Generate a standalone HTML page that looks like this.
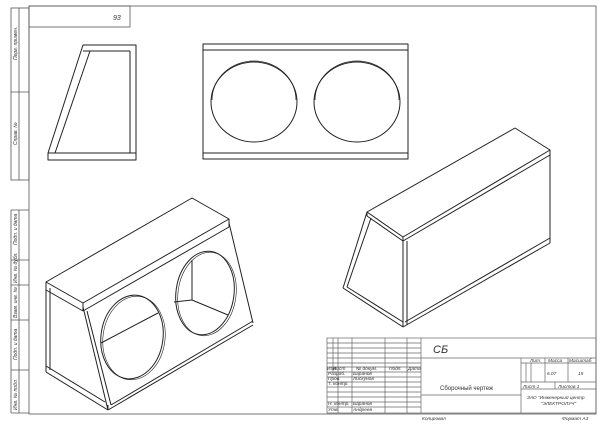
<!DOCTYPE html>
<html><head><meta charset="utf-8"><style>
body{margin:0;background:#fff}
svg{display:block}
text{font-family:"Liberation Sans","DejaVu Sans",sans-serif;font-style:italic;fill:#333}
</style></head><body>
<svg width="600" height="424" viewBox="0 0 600 424" xmlns="http://www.w3.org/2000/svg">
<rect width="600" height="424" fill="#fff"/>
<g stroke="#555" stroke-width="0.8" fill="none">
<rect x="29" y="6" width="567" height="408"/>
<rect x="29" y="6" width="101" height="21"/>
<rect x="11" y="8" width="18" height="172"/>
<line x1="11" y1="92" x2="29" y2="92"/>
<line x1="11" y1="210" x2="29" y2="210"/>
<line x1="11" y1="210" x2="11" y2="413"/>
<line x1="11" y1="260" x2="29" y2="260"/>
<line x1="11" y1="285" x2="29" y2="285"/>
<line x1="11" y1="320" x2="29" y2="320"/>
<line x1="11" y1="370" x2="29" y2="370"/>
<line x1="11" y1="413" x2="29" y2="413"/>
<line x1="19" y1="8" x2="19" y2="180"/>
<line x1="19" y1="210" x2="19" y2="413"/>
</g>
<g font-size="5" >
<text transform="translate(17,60) rotate(-90)">Перв. примен.</text>
<text transform="translate(17,145) rotate(-90)">Справ. №</text>
<text transform="translate(17,245) rotate(-90)">Подп. и дата</text>
<text transform="translate(17,283) rotate(-90)">Инв. № дубл.</text>
<text transform="translate(17,318) rotate(-90)">Взам. инв. №</text>
<text transform="translate(17,360) rotate(-90)">Подп. и дата</text>
<text transform="translate(17,410) rotate(-90)">Инв. № подл.</text>
</g>
<text x="113" y="20" font-size="7">93</text>

<g stroke="#222" stroke-width="1" fill="none" stroke-linejoin="round">
<polygon points="83,45 136,45 136,160 48,160 48,153 83,45"/>
<line x1="90" y1="51" x2="130" y2="51"/>
<line x1="83" y1="51" x2="90" y2="51"/>
<line x1="130" y1="51" x2="130" y2="153"/>
<line x1="48" y1="153" x2="136" y2="153"/>
<line x1="90" y1="51" x2="55" y2="153"/>
<rect x="203" y="44" width="205" height="115"/>
<line x1="203" y1="50" x2="408" y2="50"/>
<line x1="203" y1="153" x2="408" y2="153"/>
<ellipse cx="254" cy="102" rx="43" ry="40"/>
<ellipse cx="357" cy="102" rx="43" ry="40"/>
<path d="M212,100 A42,39 0 0 1 296,100" stroke-width="0.8"/>
<path d="M315,100 A42,39 0 0 1 399,100" stroke-width="0.8"/>
<polygon points="46,282 192,198 229,219 83,303"/>
<line x1="46" y1="282" x2="46" y2="372"/>
<line x1="50" y1="288" x2="50" y2="370"/>
<line x1="46" y1="290" x2="83" y2="311"/>
<line x1="83" y1="303" x2="83" y2="311"/>
<line x1="83" y1="311" x2="229" y2="227"/>
<line x1="229" y1="219" x2="229" y2="227"/>
<line x1="46" y1="372" x2="108" y2="410"/>
<line x1="46" y1="366" x2="105" y2="402"/>
<line x1="83" y1="307" x2="108" y2="410"/>
<line x1="87" y1="311" x2="111" y2="405"/>
<line x1="108" y1="410" x2="253" y2="325"/>
<line x1="111" y1="405" x2="253" y2="321"/>
<line x1="108" y1="410" x2="108" y2="405"/>
<line x1="229" y1="223" x2="253" y2="323"/>
<ellipse cx="132" cy="337" rx="31" ry="42" transform="rotate(8 132 337)"/>
<ellipse cx="134" cy="338" rx="31" ry="42" transform="rotate(8 134 338)" stroke-width="0.6"/>
<ellipse cx="205" cy="293" rx="29" ry="42" transform="rotate(8 205 293)"/>
<ellipse cx="207" cy="294" rx="29" ry="42" transform="rotate(8 207 294)" stroke-width="0.6"/>
<line x1="101" y1="343" x2="158" y2="313"/>
<polyline points="192,260 192,300 228,315"/>
<line x1="174" y1="302" x2="192" y2="300"/>
<polygon points="367,212 515,128 550,150 403,237"/>
<line x1="367" y1="212" x2="367" y2="216"/>
<line x1="367" y1="216" x2="403" y2="241"/>
<line x1="403" y1="237" x2="403" y2="327"/>
<line x1="407" y1="241" x2="407" y2="325"/>
<line x1="403" y1="241" x2="550" y2="155"/>
<line x1="550" y1="150" x2="550" y2="243"/>
<line x1="403" y1="327" x2="550" y2="243"/>
<line x1="405" y1="322" x2="550" y2="238"/>
<line x1="367" y1="212" x2="343" y2="288"/>
<line x1="371" y1="218" x2="347" y2="287"/>
<line x1="343" y1="288" x2="403" y2="327"/>
<line x1="347" y1="287" x2="403" y2="322"/>
</g>

<g stroke="#666" stroke-width="0.7" fill="none">
<rect x="327" y="338" width="269" height="75"/>
<line x1="333" y1="338" x2="333" y2="372"/>
<line x1="338" y1="338" x2="338" y2="413"/>
<line x1="352" y1="338" x2="352" y2="413"/>
<line x1="385" y1="338" x2="385" y2="413"/>
<line x1="407" y1="338" x2="407" y2="413"/>
<line x1="421" y1="338" x2="421" y2="413"/>
<line x1="327" y1="343" x2="421" y2="343"/>
<line x1="327" y1="348" x2="421" y2="348"/>
<line x1="327" y1="353" x2="421" y2="353"/>
<line x1="327" y1="358" x2="421" y2="358"/>
<line x1="327" y1="363" x2="421" y2="363"/>
<line x1="327" y1="367" x2="421" y2="367"/>
<line x1="327" y1="372" x2="421" y2="372"/>
<line x1="327" y1="377" x2="421" y2="377"/>
<line x1="327" y1="382" x2="421" y2="382"/>
<line x1="327" y1="387" x2="421" y2="387"/>
<line x1="327" y1="392" x2="421" y2="392"/>
<line x1="327" y1="397" x2="421" y2="397"/>
<line x1="327" y1="402" x2="421" y2="402"/>
<line x1="327" y1="407" x2="421" y2="407"/>
<line x1="421" y1="358" x2="596" y2="358"/>
<line x1="421" y1="395" x2="521" y2="395"/>
<line x1="521" y1="358" x2="521" y2="413"/>
<line x1="521" y1="363" x2="596" y2="363"/>
<line x1="521" y1="382" x2="596" y2="382"/>
<line x1="521" y1="389" x2="596" y2="389"/>
<line x1="526" y1="363" x2="526" y2="382"/>
<line x1="531" y1="363" x2="531" y2="382"/>
<line x1="545" y1="358" x2="545" y2="382"/>
<line x1="568" y1="358" x2="568" y2="382"/>
<line x1="555" y1="382" x2="555" y2="389"/>
</g>
<g font-size="4.8">
<text x="433" y="353" font-size="11">СБ</text>
<text x="327" y="370">Изм</text><text x="333" y="370">Лист</text>
<text x="356" y="370">№ докум.</text><text x="389" y="370">Подп.</text><text x="408" y="370">Дата</text>
<text x="328" y="375">Разраб.</text><text x="353" y="375">Баранов</text>
<text x="328" y="380">Пров.</text><text x="353" y="380">Лискунов</text>
<text x="328" y="385">Т. контр.</text>
<text x="328" y="405">Н. контр.</text><text x="353" y="405">Баранов</text>
<text x="328" y="411">Утв.</text><text x="353" y="411">Андреев</text>
<text x="440" y="390" font-size="6" style="font-style:normal">Сборочный чертеж</text>
<text x="530" y="362">Лит.</text><text x="548" y="362">Масса</text><text x="569" y="362">Масштаб</text>
<text x="547" y="375">6.07</text><text x="578" y="375">15</text>
<text x="523" y="388">Лист 1</text><text x="558" y="388">Листов 1</text>
<text x="527" y="399">ЗАО "Инженерный центр</text>
<text x="541" y="405">"ЭЛЕКТРОЛУЧ"</text>
<text x="422" y="420">Копировал</text>
<text x="562" y="420">Формат А3</text>
</g>
</svg>
</body></html>
